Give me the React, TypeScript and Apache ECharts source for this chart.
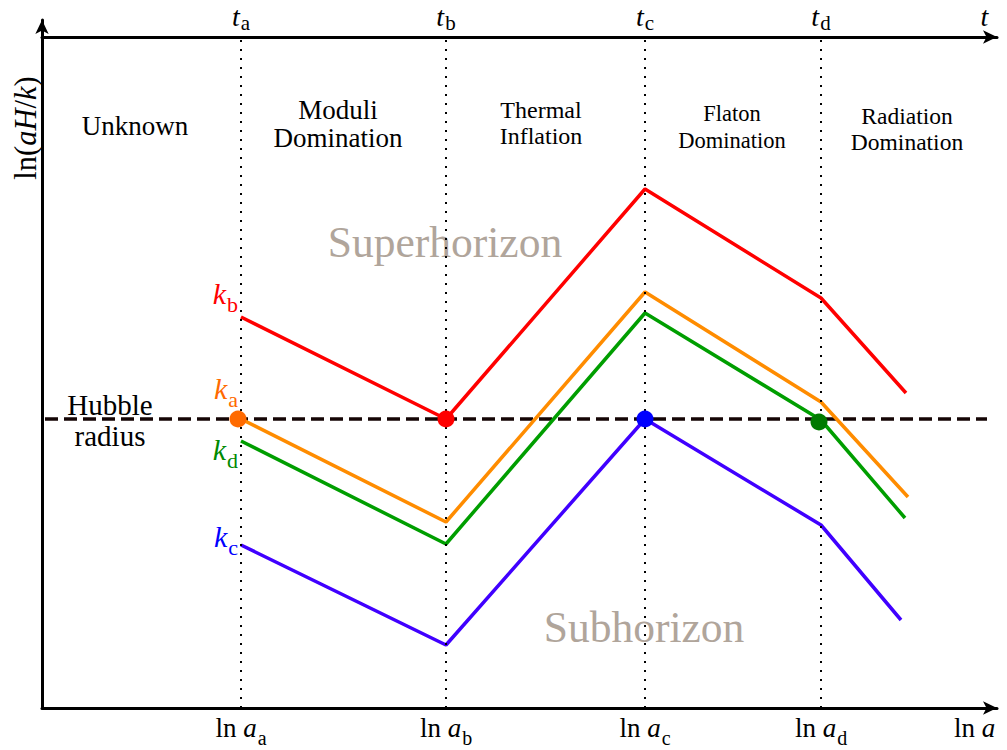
import React, { useEffect, useRef } from "react";
import * as echarts from "echarts";

// x positions (ln a) of the transitions a, b, c, d and line ends
const epochX = [199, 404, 603, 779];
const epochSub = ["a", "b", "c", "d"];
const redX = [199, 404, 603, 779, 864];
const redY = [391, 289, 519, 410, 315];
const orangeX = [199, 404, 603, 779, 866];
const orangeY = [289, 186, 416, 306, 211];
const greenX = [199, 404, 603, 779, 863];
const greenY = [267, 164, 395, 288, 190];
const blueX = [199, 404, 603, 779, 859];
const blueY = [163, 63, 289, 183, 88];
const hubbleY = 289;
const hubbleX = [3, 945];
const dotX = [196, 404, 603, 777];
const dotY = [289, 289, 289, 286];
const dotColors = ["#ff6a00", "#ff0000", "#0000ff", "#007a00"];
const topY = 671;

const SERIF = "'Liberation Serif', 'DejaVu Serif', serif";

const zip = (xs: number[], ys: number[]) => xs.map((x, i) => [x, ys[i]]);

const mathRich = (size: number, subSize: number, drop: number, lh?: number, subLh?: number) => ({
  n: { fontFamily: SERIF, fontSize: size, lineHeight: lh, color: "#000", verticalAlign: "bottom", padding: [0, 0, drop, 0] },
  i: { fontFamily: SERIF, fontSize: size, lineHeight: lh, fontStyle: "italic", color: "#000", verticalAlign: "bottom", padding: [0, 1, drop, 0] },
  s: { fontFamily: SERIF, fontSize: subSize, lineHeight: subLh, color: "#000", verticalAlign: "bottom" },
});

const kRich = (color: string) => ({
  i: { fontFamily: SERIF, fontSize: 30, fontStyle: "italic", color, verticalAlign: "bottom", padding: [0, 1, 7, 0] },
  s: { fontFamily: SERIF, fontSize: 22, color, verticalAlign: "bottom" },
});

function kSeries(name: string, xs: number[], ys: number[], color: string, labelColor: string, sub: string, offset: number[]) {
  const data: any[] = zip(xs, ys).map((p) => ({ value: p }));
  data[0] = {
    value: data[0].value,
    label: {
      show: true,
      position: "left",
      distance: 3,
      offset,
      formatter: `{i|k}{s|${sub}}`,
      rich: kRich(labelColor),
    },
  };
  return {
    type: "line",
    name,
    xAxisIndex: 0,
    yAxisIndex: 0,
    data,
    symbol: "circle",
    symbolSize: 0,
    showSymbol: true,
    itemStyle: { color },
    lineStyle: { color, width: 3.5 },
    label: { show: false },
    z: 3,
  };
}

export default function App() {
  const ref = useRef<HTMLDivElement>(null);
  useEffect(() => {
    if (!ref.current) return;
    const chart = echarts.init(ref.current, null, { renderer: "svg" });
    const axisLine = {
      show: true,
      onZero: false,
      symbol: ["none", "arrow"],
      symbolSize: [10, 14],
      lineStyle: { color: "#000", width: 3 },
    };
    const option: any = {
      animation: false,
      grid: [
        { left: 42, right: 10, top: 20, bottom: 42, containLabel: false, outerBoundsMode: "none" },
        { left: 42, right: 10, top: 37, height: 10, containLabel: false, outerBoundsMode: "none" },
      ],
      xAxis: [
        {
          type: "value",
          gridIndex: 0,
          min: 0,
          max: 955,
          splitLine: { show: false },
          axisTick: { show: false },
          axisLine,
          axisLabel: {
            show: true,
            customValues: [...epochX, 933],
            margin: 6,
            formatter: (v: number) => {
              const idx = epochX.indexOf(v);
              return idx >= 0 ? `{n|ln }{i|a}{s|${epochSub[idx]}}` : `{n|ln }{i|a}`;
            },
            rich: mathRich(27, 20, 7),
          },
        },
        {
          type: "value",
          gridIndex: 1,
          position: "top",
          min: 0,
          max: 955,
          splitLine: { show: false },
          axisTick: { show: false },
          axisLine,
          axisLabel: {
            show: true,
            customValues: [...epochX, 943],
            margin: 4,
            formatter: (v: number) => {
              const idx = epochX.indexOf(v);
              return idx >= 0 ? `{i|t}{s|${epochSub[idx]}}` : `{i|t}`;
            },
            rich: mathRich(28, 21, 3, 22, 18),
          },
        },
      ],
      yAxis: [
        {
          type: "value",
          gridIndex: 0,
          min: 0,
          max: 688,
          splitLine: { show: false },
          axisTick: { show: false },
          axisLabel: { show: false },
          axisLine,
        },
        { type: "value", gridIndex: 1, show: false, min: 0, max: 1 },
      ],
      series: [
        kSeries("kb", redX, redY, "#ff0000", "#ff0000", "b", [0, -20]),
        kSeries("ka", orangeX, orangeY, "#ff8c00", "#ff6a00", "a", [0, -27]),
        kSeries("kd", greenX, greenY, "#009e00", "#008a00", "d", [0, 12]),
        kSeries("kc", blueX, blueY, "#4000ff", "#0000ff", "c", [0, -5]),
        {
          type: "line",
          name: "Hubble radius",
          xAxisIndex: 0,
          yAxisIndex: 0,
          data: hubbleX.map((x) => [x, hubbleY]),
          symbol: "none",
          lineStyle: { color: "#140505", width: 3.5, type: [13, 6] },
          z: 2,
          markLine: {
            silent: true,
            symbol: "none",
            label: { show: false },
            lineStyle: { color: "#000", width: 2, type: [2, 7] },
            data: epochX.map((x) => [
              { coord: [x, 0] },
              { coord: [x, topY] },
            ]),
            z: 4,
          },
        },
        {
          type: "scatter",
          name: "crossings",
          xAxisIndex: 0,
          yAxisIndex: 0,
          symbolSize: 17,
          data: dotX.map((x, i) => ({ value: [x, dotY[i]], itemStyle: { color: dotColors[i], opacity: 1 } })),
          z: 5,
        },
      ],
      graphic: [
        {
          type: "text",
          x: 26,
          y: 128,
          rotation: Math.PI / 2,
          style: {
            text: "{n|ln(}{i|aH}{n|/}{i|k}{n|)}",
            align: "center",
            verticalAlign: "middle",
            rich: {
              n: { fontFamily: SERIF, fontSize: 30.5, fill: "#000" },
              i: { fontFamily: SERIF, fontSize: 30.5, fontStyle: "italic", fill: "#000" },
            },
          },
        },
        ...[
          ["Unknown", 135, 126, 28, 27],
          ["Moduli\nDomination", 338, 124, 28, 27],
          ["Thermal\nInflation", 541, 123, 26, 24],
          ["Flaton\nDomination", 732, 127, 27, 22.5],
          ["Radiation\nDomination", 907, 129, 26, 23.5],
          ["Hubble\nradius", 110, 420, 31, 29],
        ].map(([t, x, y, lh, fs]) => ({
          type: "text",
          x,
          y,
          style: {
            text: t,
            align: "center",
            verticalAlign: "middle",
            fontFamily: SERIF,
            fontSize: fs,
            lineHeight: lh,
            fill: "#000",
          },
        })),
        ...[
          ["Superhorizon", 445, 242],
          ["Subhorizon", 644, 627],
        ].map(([t, x, y]) => ({
          type: "text",
          x,
          y,
          style: {
            text: t,
            align: "center",
            verticalAlign: "middle",
            fontFamily: SERIF,
            fontSize: 43.5,
            fill: "#b0a59b",
          },
        })),
      ],
    };
    chart.setOption(option);
    return () => chart.dispose();
  }, []);
  return <div ref={ref} style={{ width: 1007, height: 750, position: "absolute", left: 0, top: 0 }} />;
}
